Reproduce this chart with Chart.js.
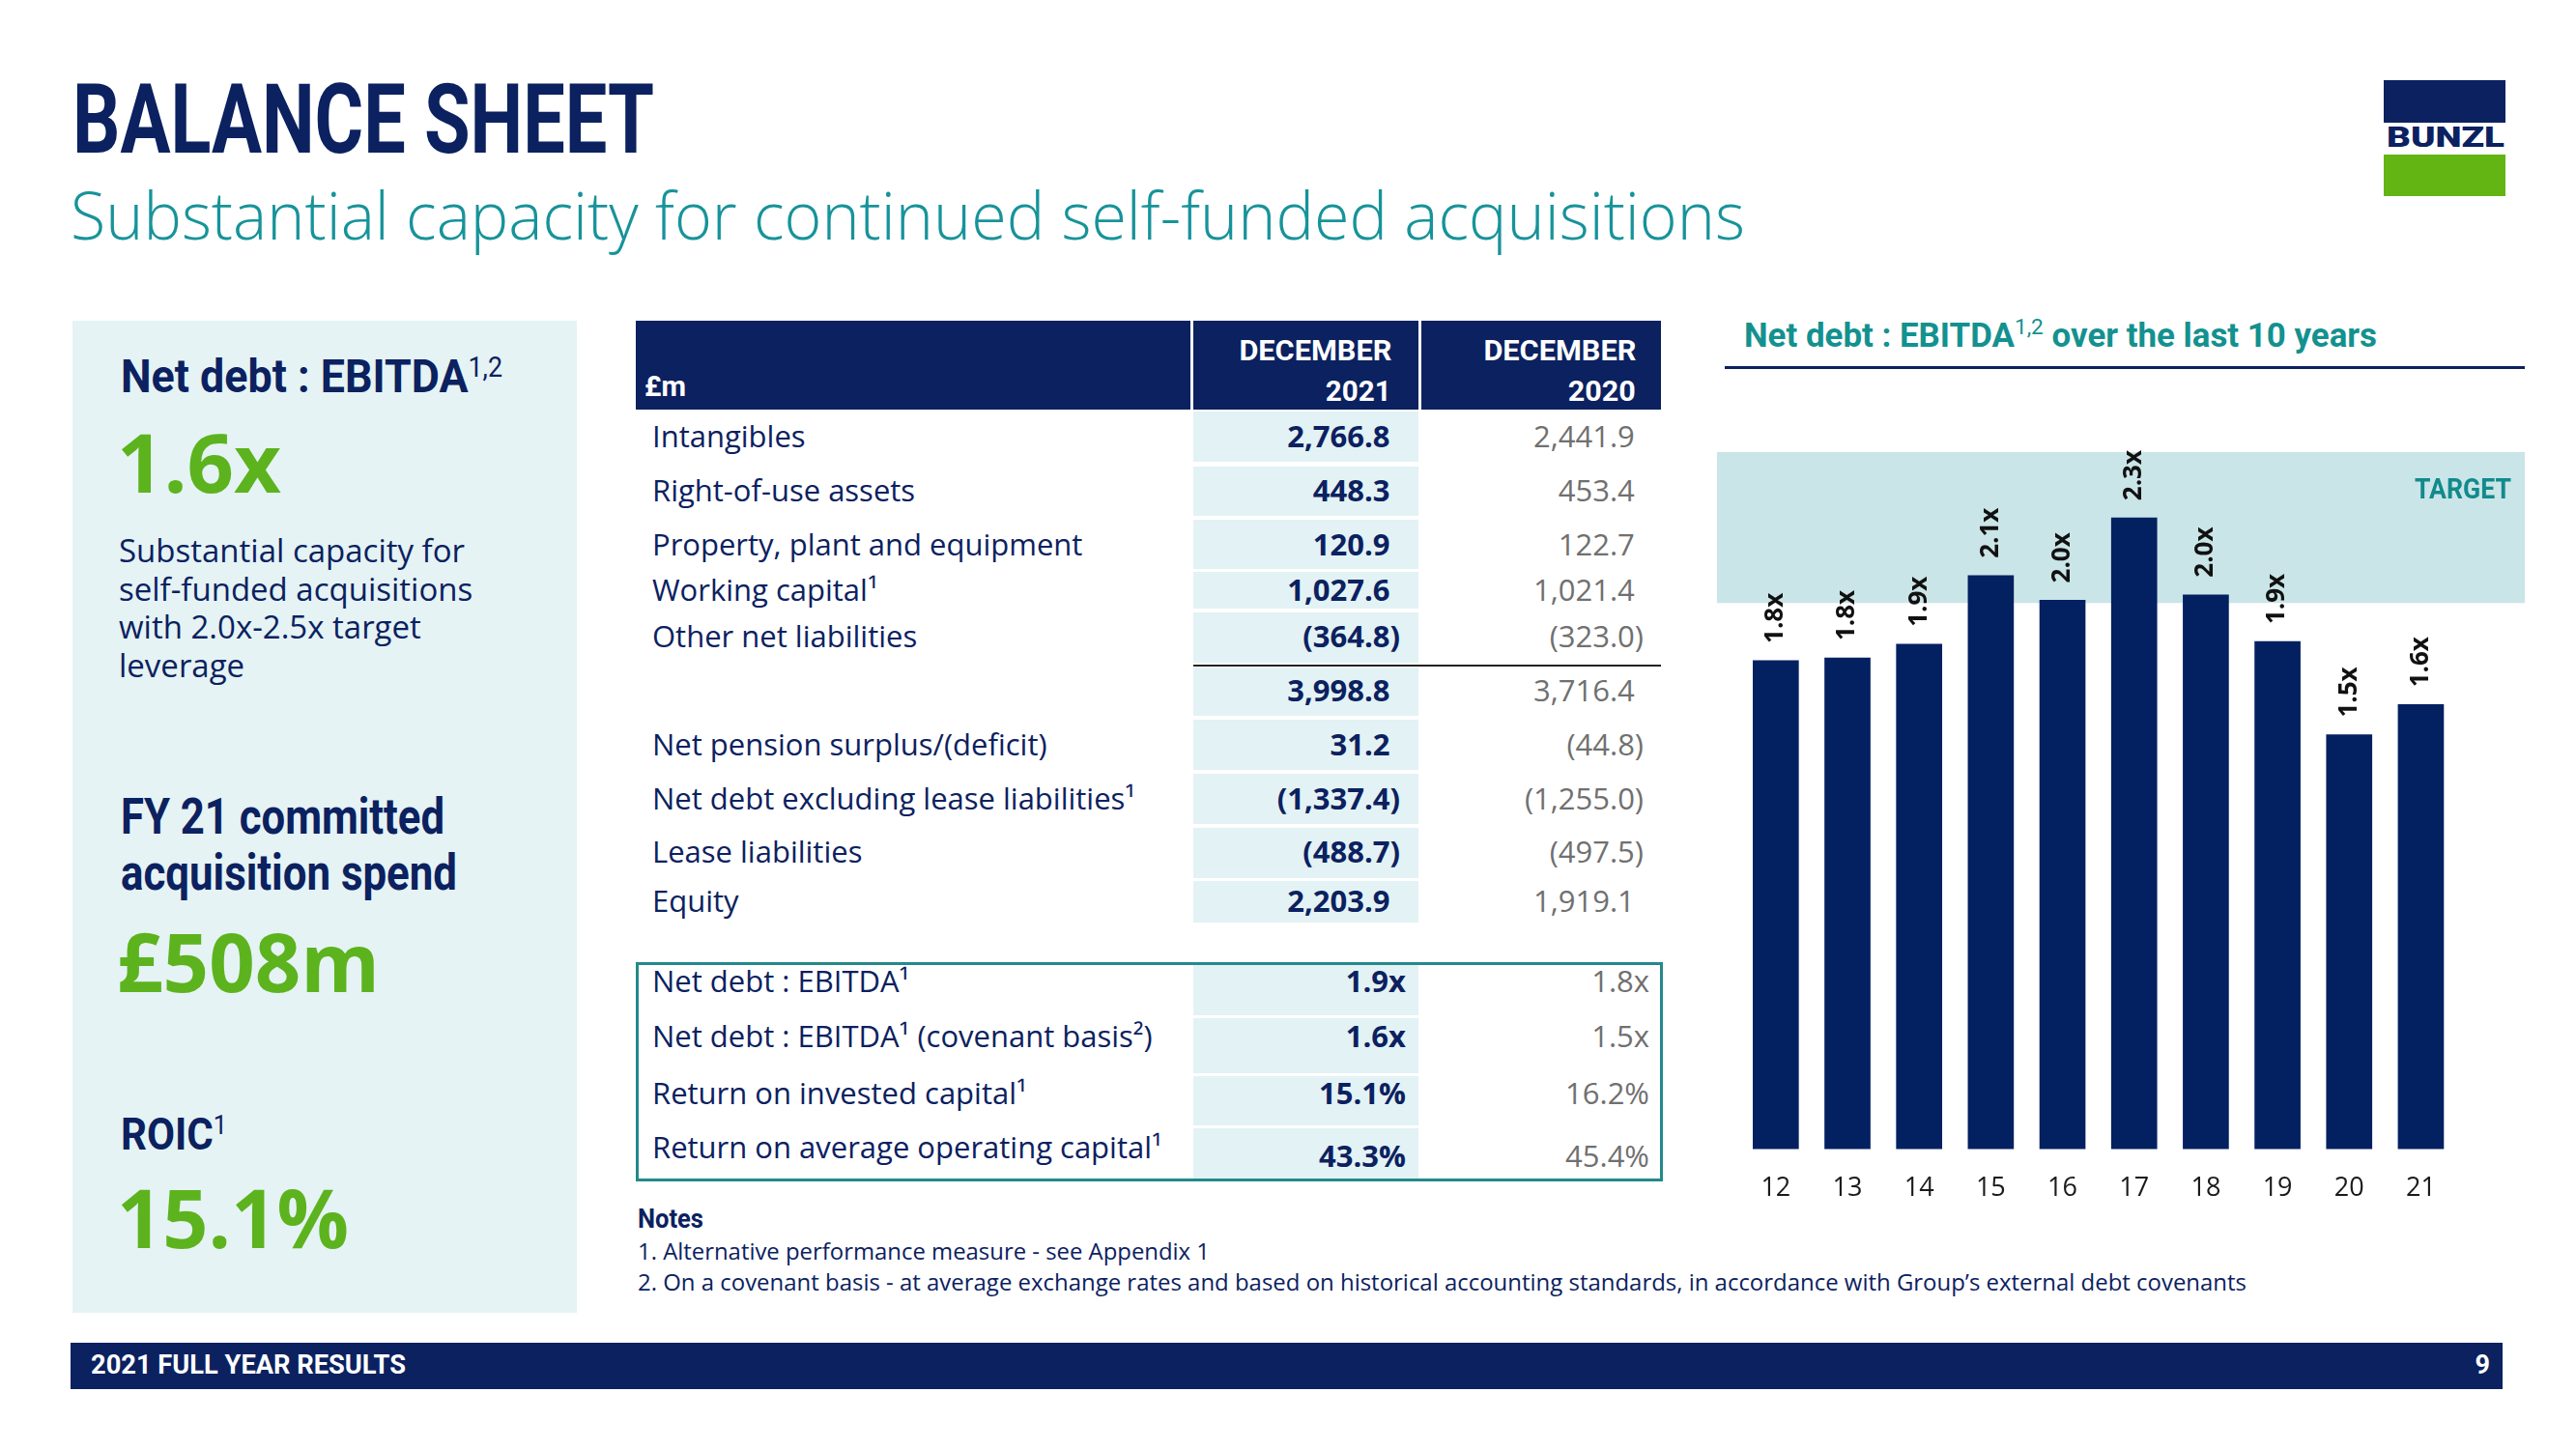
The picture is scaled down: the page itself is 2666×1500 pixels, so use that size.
<!DOCTYPE html>
<html lang="en">
<head>
<meta charset="utf-8">
<title>Balance sheet</title>
<script src="https://cdn.jsdelivr.net/npm/chart.js@4.4.1/dist/chart.umd.min.js"></script>
<style>
  html, body { margin: 0; padding: 0; background: #fff; }
  body { width: 2666px; height: 1500px; position: relative; overflow: hidden;
         font-family: "Open Sans", sans-serif; color: #0b2160; }
  .t { position: absolute; white-space: nowrap; line-height: 1; transform-origin: left center; }
  .t.r { transform-origin: right center; }
  .cond { font-family: Roboto, sans-serif; font-weight: 700; }
  .box { position: absolute; }
  .sp { font-size: 0.6em; font-weight: 400; position: relative; top: -0.56em; }
  .navy { background: #0b2160; }
  .green { color: #5cb31e; font-weight: 700; }
  .para { font-size: 33px; left: 123px; }
</style>
</head>
<body>

<!-- heading -->
<div class="t cond" data-w="602" style="left:75px;top:73px;font-size:101px;">BALANCE SHEET</div>
<div class="t" data-w="1733" style="left:73px;top:188px;font-size:68px;font-weight:300;color:#17939a;">Substantial capacity for continued self-funded acquisitions</div>

<!-- logo -->
<div class="box navy" style="left:2467px;top:83px;width:126px;height:44px;"></div>
<div class="box" style="left:2467px;top:160px;width:126px;height:43px;background:#62b512;"></div>
<div class="t" data-w="122" style="left:2470px;top:127px;font-size:30px;font-family:Roboto;font-weight:900;">BUNZL</div>

<!-- left panel -->
<div class="box" style="left:75px;top:332px;width:522px;height:1027px;background:#e5f3f4;"></div>
<div class="t cond" data-w="395" style="left:125px;top:365px;font-size:49px;">Net debt : EBITDA<span class="sp">1,2</span></div>
<div class="t green" data-w="170" style="left:121px;top:436px;font-size:84px;">1.6x</div>
<div class="t para" style="top:553px;">Substantial capacity for</div>
<div class="t para" style="top:592.5px;">self-funded acquisitions</div>
<div class="t para" style="top:632px;">with 2.0x-2.5x target</div>
<div class="t para" style="top:671.5px;">leverage</div>
<div class="t cond" data-w="335" style="left:125px;top:820px;font-size:52px;">FY 21 committed</div>
<div class="t cond" data-w="348" style="left:125px;top:878px;font-size:52px;">acquisition spend</div>
<div class="t green" data-w="272" style="left:121px;top:953px;font-size:84px;">£508m</div>
<div class="t cond" data-w="110" style="left:125px;top:1150px;font-size:47px;">ROIC<span class="sp">1</span></div>
<div class="t green" data-w="240" style="left:121px;top:1218px;font-size:84px;">15.1%</div>

<!-- table header -->
<div class="box navy" style="left:658px;top:332px;width:574px;height:92px;"></div>
<div class="box navy" style="left:1235px;top:332px;width:233px;height:92px;"></div>
<div class="box navy" style="left:1471px;top:332px;width:248px;height:92px;"></div>
<div class="t cond" data-w="43" style="left:667px;top:385px;font-size:30px;color:#fff;">£m</div>
<div class="t r cond" data-w="158" style="right:1226px;top:348px;font-size:30px;color:#fff;">DECEMBER</div>
<div class="t r cond" data-w="68" style="right:1226px;top:390px;font-size:30px;color:#fff;">2021</div>
<div class="t r cond" data-w="158" style="right:973px;top:348px;font-size:30px;color:#fff;">DECEMBER</div>
<div class="t r cond" data-w="70" style="right:973px;top:390px;font-size:30px;color:#fff;">2020</div>

<div id="rows"></div>

<!-- KPI box -->
<div class="box" style="left:658px;top:996px;width:1063px;height:227px;border:3px solid #23898c;box-sizing:border-box;"></div>

<!-- notes -->
<div class="t cond" data-w="68" style="left:660px;top:1248px;font-size:28px;">Notes</div>
<div class="t" data-w="592" style="left:660px;top:1284px;font-size:23px;">1. Alternative performance measure - see Appendix 1</div>
<div class="t" data-w="1665" style="left:660px;top:1316px;font-size:23px;">2. On a covenant basis - at average exchange rates and based on historical accounting standards, in accordance with Group’s external debt covenants</div>

<!-- chart -->
<div class="t cond" data-w="655" style="left:1805px;top:330px;font-size:35px;color:#13918f;">Net debt : EBITDA<span class="sp" style="font-size:0.65em;">1,2</span> over the last 10 years</div>
<div class="box navy" style="left:1785px;top:379px;width:828px;height:3px;"></div>
<div class="box" style="left:1760px;top:440px;width:870px;height:835px;">
  <canvas id="myChart" width="870" height="835"></canvas>
</div>

<!-- footer -->
<div class="box navy" style="left:73px;top:1390px;width:2517px;height:48px;"></div>
<div class="t cond" data-w="326" style="left:94px;top:1400px;font-size:27px;color:#fff;">2021 FULL YEAR RESULTS</div>
<div class="t r cond" style="right:89px;top:1400px;font-size:27px;color:#fff;">9</div>

<script>
// balance sheet table, £m
const BS_LABELS = ["Intangibles", "Right-of-use assets", "Property, plant and equipment", "Working capital¹",
  "Other net liabilities", "", "Net pension surplus/(deficit)", "Net debt excluding lease liabilities¹",
  "Lease liabilities", "Equity"];
const BS_2021 = [2766.8, 448.3, 120.9, 1027.6, -364.8, 3998.8, 31.2, -1337.4, -488.7, 2203.9];
const BS_2020 = [2441.9, 453.4, 122.7, 1021.4, -323.0, 3716.4, -44.8, -1255.0, -497.5, 1919.1];

const KPI_LABELS = ["Net debt : EBITDA¹", "Net debt : EBITDA¹ (covenant basis²)",
  "Return on invested capital¹", "Return on average operating capital¹"];
const KPI_2021 = ["1.9x", "1.6x", "15.1%", "43.3%"];
const KPI_2020 = ["1.8x", "1.5x", "16.2%", "45.4%"];

// net debt : EBITDA, last 10 years
const YEARS = [12, 13, 14, 15, 16, 17, 18, 19, 20, 21];
const NET_DEBT_EBITDA = [1.78, 1.79, 1.84, 2.09, 2.00, 2.30, 2.02, 1.85, 1.51, 1.62];
const BAR_LABELS = ["1.8x", "1.8x", "1.9x", "2.1x", "2.0x", "2.3x", "2.0x", "1.9x", "1.5x", "1.6x"];
const TARGET_BAND = [1.99, 2.54];

// row layout (page pixels)
const BS_CELLS = [[426, 478], [483, 534], [538, 589], [592, 630], [634, 686], [691, 741], [745, 797], [801, 853], [857, 909], [912, 955]];
const BS_TEXT_Y = [451, 507, 563, 610, 658, 714, 770, 826, 881, 932];
const KPI_CELLS = [[998, 1051], [1054, 1111], [1114, 1165], [1168, 1221]];
const KPI_LABEL_Y = [1015, 1072, 1131, 1187];
const KPI_VALUE_Y = [1015, 1072, 1131, 1196];

function fmt(v) {
  const s = Math.abs(v).toLocaleString("en-GB", { minimumFractionDigits: 1, maximumFractionDigits: 1 });
  return v < 0 ? `(${s})` : `${s}<span style="visibility:hidden">)</span>`;
}

const rows = document.getElementById("rows");
let html = "";
const FS = 31;
BS_LABELS.forEach((label, i) => {
  const [t, b] = BS_CELLS[i];
  const y = BS_TEXT_Y[i] - FS / 2;
  html += `<div class="box" style="left:1235px;top:${t}px;width:233px;height:${b - t}px;background:#e3f2f4;"></div>`;
  html += `<div class="t" style="left:675px;top:${y}px;font-size:${FS}px;">${label}</div>`;
  html += `<div class="t" style="right:1217px;top:${y}px;font-size:${FS}px;font-weight:700;">${fmt(BS_2021[i])}</div>`;
  html += `<div class="t" style="right:965px;top:${y}px;font-size:${FS}px;color:#707070;">${fmt(BS_2020[i])}</div>`;
});
html += `<div class="box" style="left:1235px;top:688px;width:484px;height:1.5px;background:#222;"></div>`;
KPI_LABELS.forEach((label, i) => {
  const [t, b] = KPI_CELLS[i];
  html += `<div class="box" style="left:1235px;top:${t}px;width:233px;height:${b - t}px;background:#e3f2f4;"></div>`;
  html += `<div class="t" style="left:675px;top:${KPI_LABEL_Y[i] - FS / 2}px;font-size:${FS}px;">${label}</div>`;
  html += `<div class="t" style="right:1211px;top:${KPI_VALUE_Y[i] - FS / 2}px;font-size:${FS}px;font-weight:700;">${KPI_2021[i]}</div>`;
  html += `<div class="t" style="right:959px;top:${KPI_VALUE_Y[i] - FS / 2}px;font-size:${FS}px;color:#707070;">${KPI_2020[i]}</div>`;
});
rows.innerHTML = html;

// squeeze headings to the condensed widths of the slide
function fitText() {
  document.querySelectorAll("[data-w]").forEach(el => {
    el.style.transform = "none";
    const natural = el.getBoundingClientRect().width;
    el.style.transform = `scaleX(${(+el.dataset.w / natural).toFixed(4)})`;
  });
}
fitText();
if (document.fonts) document.fonts.ready.then(fitText);

// shaded target range behind the bars
const targetBand = {
  id: "targetBand",
  beforeDatasetsDraw(chart) {
    const { ctx, chartArea, scales: { y } } = chart;
    const top = y.getPixelForValue(TARGET_BAND[1]);
    const bottom = y.getPixelForValue(TARGET_BAND[0]);
    ctx.save();
    ctx.fillStyle = "#cae5e8";
    ctx.fillRect(chartArea.left, top, chartArea.right - chartArea.left, bottom - top);
    ctx.font = "700 30px Roboto";
    const w = ctx.measureText("TARGET").width;
    ctx.translate(chartArea.right - 14, top + 40);
    ctx.scale(100 / w, 1);
    ctx.textAlign = "right";
    ctx.textBaseline = "middle";
    ctx.fillStyle = "#128a8c";
    ctx.fillText("TARGET", 0, 0);
    ctx.restore();
  }
};

// vertical value labels above each bar
const barLabels = {
  id: "barLabels",
  afterDatasetsDraw(chart) {
    const { ctx } = chart;
    ctx.save();
    ctx.font = '700 26px "Open Sans"';
    ctx.fillStyle = "#111";
    ctx.textAlign = "left";
    ctx.textBaseline = "middle";
    chart.getDatasetMeta(0).data.forEach((bar, i) => {
      ctx.save();
      ctx.translate(bar.x, bar.y - 18);
      ctx.rotate(-Math.PI / 2);
      ctx.fillText(BAR_LABELS[i], 0, 0);
      ctx.restore();
    });
    ctx.restore();
  }
};

const canvas = document.getElementById("myChart");
new Chart(canvas, {
  type: "bar",
  data: {
    datasets: [{
      data: YEARS.map((yr, i) => ({ x: yr, y: NET_DEBT_EBITDA[i] })),
      backgroundColor: "#032060",
      barThickness: 47
    }]
  },
  options: {
    responsive: false,
    animation: false,
    layout: { padding: { left: 17, right: 17, top: 28, bottom: 3 } },
    plugins: { legend: { display: false }, tooltip: { enabled: false } },
    scales: {
      x: {
        type: "linear",
        offset: false,
        min: 11.18,
        max: 22.45,
        grid: { display: false, drawTicks: false },
        border: { display: false },
        afterBuildTicks: scale => { scale.ticks = YEARS.map(v => ({ value: v })); },
        ticks: { font: { family: "Open Sans", size: 27 }, color: "#1a1a1a", padding: 25, maxRotation: 0, autoSkip: false }
      },
      y: { display: false, min: 0, max: TARGET_BAND[1] }
    }
  },
  plugins: [targetBand, barLabels]
});
</script>
</body>
</html>
